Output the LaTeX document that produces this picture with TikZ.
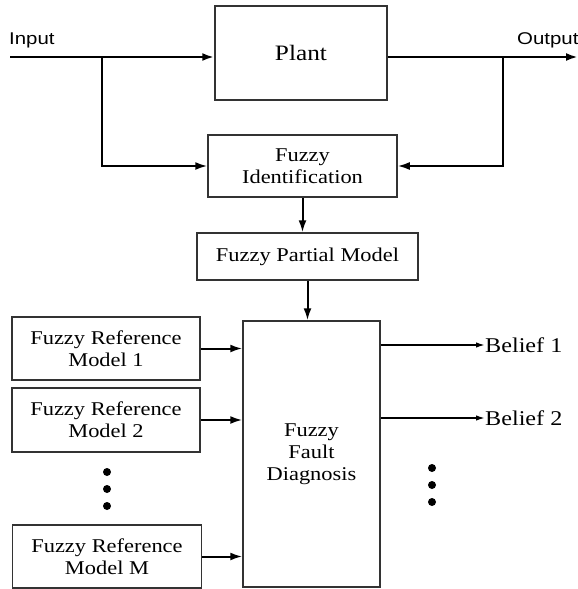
\documentclass[tikz,border=0pt]{standalone}
\usepackage{fontspec}
\setmainfont{Liberation Serif}[FakeStretch=1.15]
\newfontfamily\ioFont{Liberation Sans}[FakeStretch=1.2]
\usetikzlibrary{arrows.meta}
\newcommand{\keretVastag}{1.5pt}
\newcommand{\nyilVastag}{2.5pt}
\newcommand{\vekonyNyil}{1.6pt}
\newcommand{\pontSugar}{4}
\definecolor{keretSzin}{gray}{0.2}
\tikzset{
	doboz/.style={draw=keretSzin,line width=\keretVastag,align=center,inner sep=0pt,font=\fontsize{19.5}{22}\selectfont},
	folyam/.style={line width=\nyilVastag,-{Latex[length=12pt,width=8pt]}},
	hit/.style={line width=\vekonyNyil,-{Latex[length=9pt,width=5.5pt]}},
	felirat/.style={inner sep=0pt,font=\fontsize{21}{24}\selectfont}
}

\begin{document}
\begin{tikzpicture}[x=1pt,y=-1pt]
	\useasboundingbox (0,0) rectangle (578,589);
	% blokkok
	\node[doboz,minimum width=172,minimum height=94,font=\fontsize{22}{24}\selectfont] (plant) at (301,53) {Plant};
	\node[doboz,minimum width=189,minimum height=62] (ident) at (302.5,166) {Fuzzy\\Identification};
	\node[doboz,minimum width=221,minimum height=47] (partial) at (307.5,256.5) {Fuzzy Partial Model};
	\node[doboz,minimum width=137,minimum height=266] (diag) at (311.5,454) {Fuzzy\\Fault\\Diagnosis};
	\node[doboz,minimum width=188,minimum height=63] (ref1) at (106,348.5) {Fuzzy Reference\\Model 1};
	\node[doboz,minimum width=188,minimum height=64] (ref2) at (106,420) {Fuzzy Reference\\Model 2};
	\node[doboz,minimum width=189,minimum height=63] (refM) at (107,556.5) {Fuzzy Reference\\Model M};
	% be- es kimenet
	\coordinate (in) at (10,57);
	\coordinate (out) at (578,57);
	\coordinate (inAg) at (102,57);
	\coordinate (outAg) at (503,57);
	\node[anchor=base west,inner sep=0pt,font=\ioFont\fontsize{17}{20}\selectfont] (inLabel) at (9,44) {Input};
	\node[anchor=base west,inner sep=0pt,font=\ioFont\fontsize{17}{20}\selectfont] (outLabel) at (517,44) {Output};
	\draw[folyam] (in) -- (in -| plant.west);
	\draw[folyam] (plant.east |- out) -- (out);
	\draw[folyam,line width=2pt] (inAg) |- (ident.west);
	\draw[folyam,line width=2pt] (outAg) |- (ident.east);
	% lefele
	\draw[folyam,line width=2pt] (ident.south) -- (ident.south |- partial.north);
	\draw[folyam,line width=2pt] (partial.south) -- (partial.south |- diag.north);
	% referencia modellek
	\draw[folyam,line width=2pt] (ref1.east) -- (ref1.east -| diag.west);
	\draw[folyam,line width=2pt] (ref2.east) -- (ref2.east -| diag.west);
	\draw[folyam,line width=2pt] (refM.east) -- (refM.east -| diag.west);
	% hiedelmek
	\node[felirat,anchor=west] (belief1) at (485,345) {Belief 1};
	\node[felirat,anchor=west] (belief2) at (485,418) {Belief 2};
	\draw[hit] (belief1.west -| diag.east) -- (belief1.west);
	\draw[hit] (belief2.west -| diag.east) -- (belief2.west);
	% pontok
	\foreach \y in {472,489,506}
		\fill (107,\y) circle (\pontSugar);
	\foreach \y in {468,485,502}
		\fill (432,\y) circle (\pontSugar);
\end{tikzpicture}
\end{document}
